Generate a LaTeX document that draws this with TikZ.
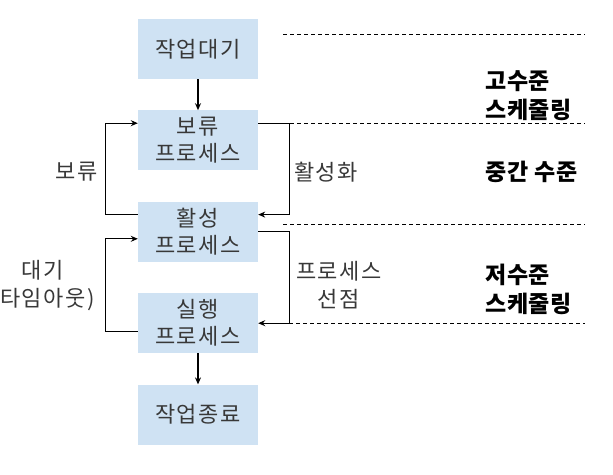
\documentclass[tikz,border=0pt]{standalone}
\usepackage{fontspec}
\setmainfont{Noto Sans CJK KR}
\newfontfamily\spacedfont[LetterSpace=7]{Noto Sans CJK KR}
\newfontfamily\levelfont[LetterSpace=3]{Noto Sans CJK KR}
\usetikzlibrary{arrows.meta, positioning}
\definecolor{BoxBlue}{HTML}{CFE2F3}
\definecolor{TextGrey}{HTML}{383838}

\begin{document}
\begin{tikzpicture}[
    x=1pt, y=-1pt,
    node distance=31pt,
    state/.style={rectangle, fill=BoxBlue, minimum width=120pt, minimum height=60pt, inner sep=0pt, align=center, text=TextGrey, font=\spacedfont\fontsize{22}{27}\selectfont},
    lbl/.style={align=center, text=TextGrey, font=\spacedfont\fontsize{22}{28}\selectfont},
    level/.style={anchor=west, align=left, inner sep=0pt, font=\levelfont\bfseries\fontsize{23}{29}\selectfont},
    arrow/.style={-{Stealth[length=7pt, width=6pt]}, line width=1.1pt},
    sep/.style={dash pattern=on 4pt off 3pt, line width=1pt}
]
\useasboundingbox (0,0) rectangle (613,474);

\node[state] (s1) at (198,49) {작업대기};
\node[state, below=of s1] (s2) {보류\\프로세스};
\node[state, below=of s2] (s3) {활성\\프로세스};
\node[state, below=of s3] (s4) {실행\\프로세스};
\node[state, below=of s4] (s5) {작업종료};

\draw[arrow] (s1) -- (s2);
\draw[arrow] (s4) -- (s5);

% suspend / resume loops
\draw[arrow] ([yshift=-13pt]s3.north west) -- ++(-32,0) |- ([yshift=-13pt]s2.north west);
\draw[arrow] ([yshift=-13pt]s2.north east) -- ++(31,0) |- ([yshift=-13pt]s3.north east);
\draw[arrow] ([yshift=-8pt]s4.west) -- ++(-32,0) |- ([yshift=-7pt]s3.west);
\draw[arrow] (s3.east) -- ++(31,0) |- (s4.east);

\node[lbl] (l1) at (77,172) {보류};
\node[lbl] (l2) at (326,172) {활성화};
\node[lbl] (l3) at (43,286) {대기\\(타임아웃)};
\node[lbl] (l4) at (339,285) {프로세스\\선점};

% scheduling levels
\draw[sep] (283,34) -- (585,34);
\draw[sep] (283,123) -- (585,123);
\draw[sep] (283,224) -- (585,224);
\draw[sep] (289,323) -- (585,323);

\node[level] (h1) at (485,96) {고수준\\스케줄링};
\node[level] (h2) at (485,172) {중간 수준};
\node[level] (h3) at (485,289) {저수준\\스케줄링};
\end{tikzpicture}
\end{document}
